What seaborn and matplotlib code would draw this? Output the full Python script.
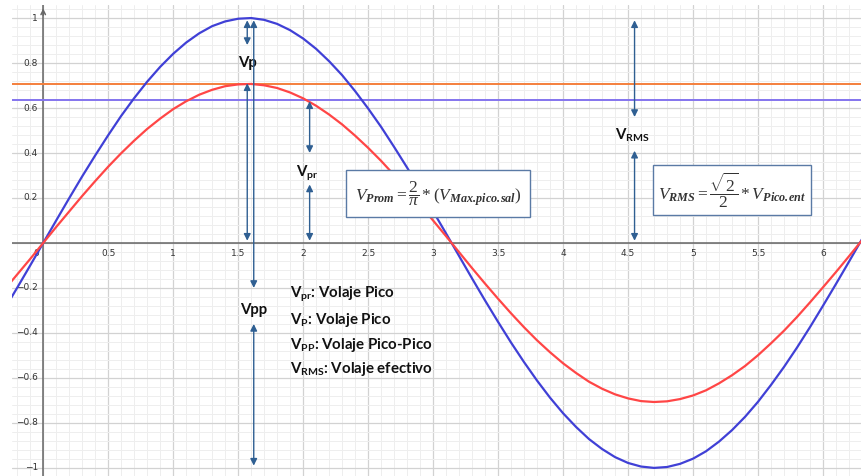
import numpy as np
import pandas as pd
import seaborn as sns
import matplotlib.pyplot as plt
from matplotlib.ticker import MultipleLocator

# ------------------------------
# Data
# ------------------------------
x_vals = np.round(np.arange(-0.3, 6.31, 0.1), 1)

v_in = [-0.296, -0.199, -0.100, 0.000, 0.100, 0.199, 0.296, 0.389, 0.479, 0.565,
        0.644, 0.717, 0.783, 0.841, 0.891, 0.932, 0.964, 0.985, 0.997, 1.000,
        0.992, 0.974, 0.946, 0.909, 0.863, 0.808, 0.746, 0.675, 0.598, 0.516,
        0.427, 0.335, 0.239, 0.141, 0.042, -0.058, -0.158, -0.256, -0.351, -0.443,
        -0.530, -0.612, -0.688, -0.757, -0.818, -0.872, -0.916, -0.952, -0.978, -0.994,
        -1.000, -0.996, -0.982, -0.959, -0.926, -0.883, -0.832, -0.773, -0.706, -0.631,
        -0.551, -0.465, -0.374, -0.279, -0.182, -0.083, 0.017]

v_out = [-0.209, -0.140, -0.071, 0.000, 0.071, 0.140, 0.209, 0.275, 0.339, 0.399,
         0.455, 0.507, 0.553, 0.595, 0.630, 0.659, 0.681, 0.697, 0.705, 0.707,
         0.701, 0.689, 0.669, 0.643, 0.610, 0.571, 0.527, 0.477, 0.423, 0.365,
         0.302, 0.237, 0.169, 0.100, 0.030, -0.041, -0.112, -0.181, -0.248, -0.313,
         -0.375, -0.433, -0.486, -0.535, -0.578, -0.617, -0.648, -0.673, -0.691, -0.703,
         -0.707, -0.704, -0.694, -0.678, -0.655, -0.624, -0.588, -0.547, -0.499, -0.446,
         -0.390, -0.329, -0.264, -0.197, -0.129, -0.059, 0.012]

v_rms_level = 0.707
v_prom_level = 0.637

x_ticks = [0.5, 1, 1.5, 2, 2.5, 3, 3.5, 4, 4.5, 5, 5.5, 6]
x_tick_labels = ["0.5", "1", "1.5", "2", "2.5", "3", "3.5", "4", "4.5", "5", "5.5", "6"]
y_ticks = [1, 0.8, 0.6, 0.4, 0.2, -0.2, -0.4, -0.6, -0.8, -1]
y_tick_labels = ["1", "0.8", "0.6", "0.4", "0.2", "\u22120.2", "\u22120.4", "\u22120.6", "\u22120.8", "\u22121"]

# double arrows: (x, y_start, y_end)
arrows = [
    (1.57, 0.99, 0.88), (1.57, 0.71, 0.01),      # Vp
    (1.62, 0.99, -0.20), (1.62, -0.36, -0.99),   # Vpp
    (2.05, 0.63, 0.40), (2.05, 0.26, 0.01),      # Vpr
    (4.55, 0.99, 0.56), (4.55, 0.41, 0.01),      # VRMS
]

legend_lines = [
    r"$\mathsf{V_{pr}}$: Volaje Pico",
    r"$\mathsf{V_{P}}$: Volaje Pico",
    r"$\mathsf{V_{PP}}$: Volaje Pico-Pico",
    r"$\mathsf{V_{RMS}}$: Volaje efectivo",
]
legend_y = [-0.228, -0.344, -0.452, -0.560]

# ------------------------------
# Style
# ------------------------------
sns.set_style("white")
plt.rcParams['font.family'] = ['Lato', 'DejaVu Sans']
plt.rcParams['mathtext.fontset'] = 'custom'
plt.rcParams['mathtext.rm'] = 'Liberation Serif'
plt.rcParams['mathtext.it'] = 'Liberation Serif:italic'
plt.rcParams['mathtext.bf'] = 'Liberation Serif:italic:bold'
plt.rcParams['mathtext.sf'] = 'Lato:bold'

df = pd.DataFrame({
    "x": np.concatenate([x_vals, x_vals]),
    "v": np.concatenate([v_in, v_out]),
    "serie": ["entrada"] * len(x_vals) + ["salida"] * len(x_vals),
})

fig = plt.figure(figsize=(8.62, 4.76), dpi=100)
ax = fig.add_axes([12 / 862, 0, 850 / 862, 471 / 476])

ax.set_xlim(-0.24, 6.30)
ax.set_ylim(-1.036, 1.058)
ax.xaxis.set_major_locator(MultipleLocator(0.5))
ax.xaxis.set_minor_locator(MultipleLocator(0.1))
ax.yaxis.set_major_locator(MultipleLocator(0.2))
ax.yaxis.set_minor_locator(MultipleLocator(0.04))
ax.grid(which='major', color='#d2d2d2', lw=0.9)
ax.grid(which='minor', color='#eeeeee', lw=0.7)
ax.set_axisbelow(True)
ax.tick_params(which='both', length=0, labelbottom=False, labelleft=False)
for s in ax.spines.values():
    s.set_visible(False)

# axes through the origin
ax.axhline(0, color='#666666', lw=1.1, zorder=1)
ax.axvline(0, color='#666666', lw=1.1, zorder=1)
ax.annotate("", xy=(0, 1.055), xytext=(0, 1.0),
            arrowprops=dict(arrowstyle="->", color='#666666', lw=1.1, mutation_scale=8))

for xt, lab in zip(x_ticks, x_tick_labels):
    ax.text(xt, -0.025, lab, ha='center', va='top', fontsize=6.5,
            color='#333333', family='DejaVu Sans')
ax.text(-0.035, -0.025, "0", ha='right', va='top', fontsize=6.5,
        color='#333333', family='DejaVu Sans')
for yt, lab in zip(y_ticks, y_tick_labels):
    ax.text(-0.04, yt, lab, ha='right', va='center', fontsize=6.5,
            color='#333333', family='DejaVu Sans')

# curves and levels
ax.axhline(v_rms_level, color='#f47f3c', lw=1.4, zorder=2)
ax.axhline(v_prom_level, color='#8474ee', lw=1.4, zorder=2)
sns.lineplot(data=df, x="x", y="v", hue="serie",
             palette={"entrada": "#4040d6", "salida": "#ff4646"},
             lw=1.6, legend=False, ax=ax, zorder=3)
ax.set_xlabel("")
ax.set_ylabel("")

# arrows
for xa, ya, yb in arrows:
    ax.annotate("", xy=(xa, yb), xytext=(xa, ya),
                arrowprops=dict(arrowstyle="<|-|>", color='#2f5f92', lw=1.0,
                                mutation_scale=10, shrinkA=0, shrinkB=0),
                zorder=4)

lab_kw = dict(ha='center', va='center', fontsize=10.8, weight='bold', color='#111111')
ax.text(1.57, 0.80, "Vp", **lab_kw)
ax.text(1.62, -0.30, "Vpp", **lab_kw)
ax.text(2.03, 0.31, r"$\mathsf{V_{pr}}$", **lab_kw)
ax.text(4.53, 0.48, r"$\mathsf{V_{RMS}}$", **lab_kw)

for txt, yy in zip(legend_lines, legend_y):
    ax.text(1.90, yy, txt, ha='left', va='center', fontsize=10.8,
            weight='bold', color='#111111')

ax.text(3.04, 0.22, r"$V_{\mathbf{Prom}} = \dfrac{2}{\pi} * (V_{\mathbf{Max.\!pico.\!sal}})$",
        ha='center', va='center', fontsize=12.5, color='#333333', zorder=5,
        bbox=dict(boxstyle='square,pad=0.5', fc='white', ec='#5a7aa5', lw=1.0))
ax.text(5.30, 0.235, r"$V_{\mathbf{RMS}} = \dfrac{\sqrt{2}}{2} * V_{\mathbf{Pico.\!ent}}$",
        ha='center', va='center', fontsize=12.5, color='#333333', zorder=5,
        bbox=dict(boxstyle='square,pad=0.3', fc='white', ec='#5a7aa5', lw=1.0))

fig.savefig("out.png", dpi=100, facecolor='white')
